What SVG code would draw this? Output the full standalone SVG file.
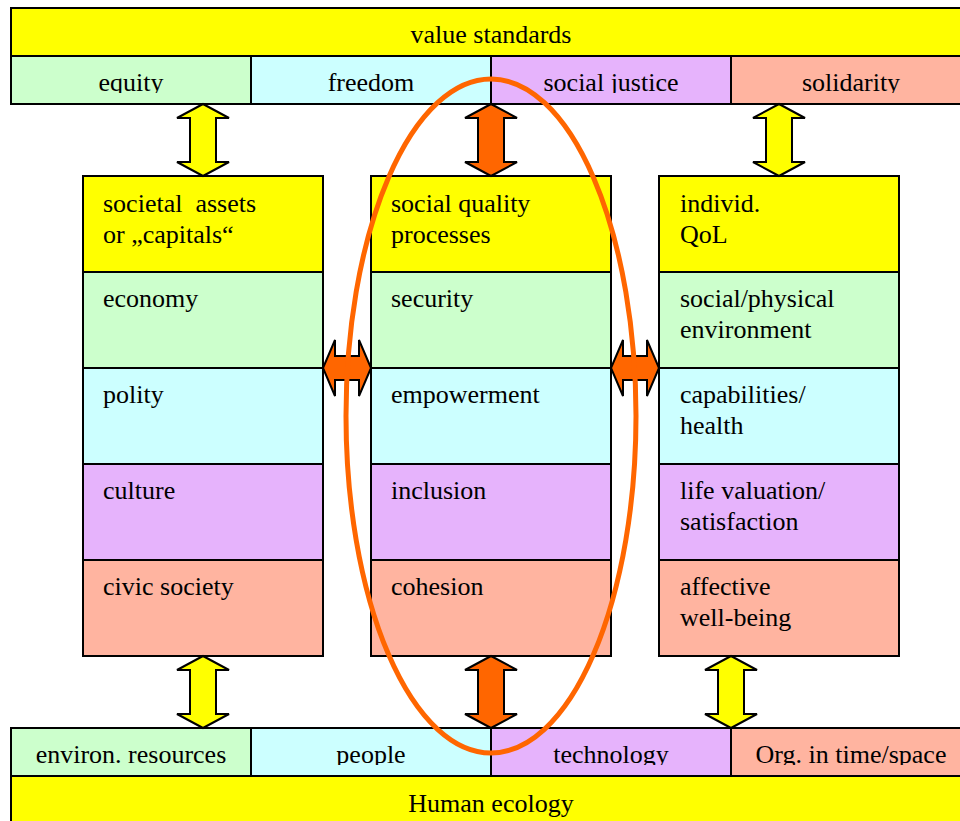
<svg xmlns="http://www.w3.org/2000/svg" width="960" height="821" viewBox="0 0 960 821">
<style>
text{font-size:26px;fill:#000}
.c{text-anchor:middle}
rect{stroke:#000;stroke-width:2}
.y{fill:#ffff00}.g{fill:#ccffcc}.b{fill:#ccffff}.p{fill:#e6b3fc}.s{fill:#ffb4a0}
.ay{fill:#ffff00;stroke:#000;stroke-width:2;stroke-linejoin:miter}
.ao{fill:#ff6600;stroke:#000;stroke-width:2;stroke-linejoin:miter}
</style>
<defs>
<path id="va" d="M0,0 L26,14 L13,14 L13,58 L26,58 L0,72 L-26,58 L-13,58 L-13,14 L-26,14 Z"/>
<path id="ha" d="M0,0 L12,-28 L12,-12 L36,-12 L36,-28 L48,0 L36,28 L36,12 L12,12 L12,28 Z"/>
<clipPath id="ct"><rect x="0" y="56" width="960" height="37"/></clipPath>
<clipPath id="cb"><rect x="0" y="728" width="960" height="37"/></clipPath>
</defs>
<g font-family="'Liberation Serif', 'Times New Roman', 'DejaVu Serif', serif">
<g id="top">
<rect class="y" x="11" y="8" width="960" height="48"/>
<text class="c" x="491" y="43">value standards</text>
<rect class="g" x="11" y="56" width="240" height="48"/>
<rect class="b" x="251" y="56" width="240" height="48"/>
<rect class="p" x="491" y="56" width="240" height="48"/>
<rect class="s" x="731" y="56" width="240" height="48"/>
<g clip-path="url(#ct)">
<text class="c" x="131" y="91">equity</text>
<text class="c" x="371" y="91">freedom</text>
<text class="c" x="611" y="91">social justice</text>
<text class="c" x="851" y="91">solidarity</text>
</g>
</g>
<g id="col-left">
<rect class="y" x="83" y="176" width="240" height="96"/>
<rect class="g" x="83" y="272" width="240" height="96"/>
<rect class="b" x="83" y="368" width="240" height="96"/>
<rect class="p" x="83" y="464" width="240" height="96"/>
<rect class="s" x="83" y="560" width="240" height="96"/>
<text x="103" y="212" xml:space="preserve">societal  assets</text>
<text x="103" y="243">or „capitals“</text>
<text x="103" y="307">economy</text>
<text x="103" y="403">polity</text>
<text x="103" y="499">culture</text>
<text x="103" y="595">civic society</text>
</g>
<g id="col-mid">
<rect class="y" x="371" y="176" width="240" height="96"/>
<rect class="g" x="371" y="272" width="240" height="96"/>
<rect class="b" x="371" y="368" width="240" height="96"/>
<rect class="p" x="371" y="464" width="240" height="96"/>
<rect class="s" x="371" y="560" width="240" height="96"/>
<text x="391" y="212">social quality</text>
<text x="391" y="243">processes</text>
<text x="391" y="307">security</text>
<text x="391" y="403">empowerment</text>
<text x="391" y="499">inclusion</text>
<text x="391" y="595">cohesion</text>
</g>
<g id="col-right">
<rect class="y" x="659" y="176" width="240" height="96"/>
<rect class="g" x="659" y="272" width="240" height="96"/>
<rect class="b" x="659" y="368" width="240" height="96"/>
<rect class="p" x="659" y="464" width="240" height="96"/>
<rect class="s" x="659" y="560" width="240" height="96"/>
<text x="680" y="212">individ.</text>
<text x="680" y="243">QoL</text>
<text x="680" y="307">social/physical</text>
<text x="680" y="338">environment</text>
<text x="680" y="403">capabilities/</text>
<text x="680" y="434">health</text>
<text x="680" y="499">life valuation/</text>
<text x="680" y="530">satisfaction</text>
<text x="680" y="595">affective</text>
<text x="680" y="626">well-being</text>
</g>
<g id="bottom">
<rect class="y" x="11" y="776" width="960" height="60"/>
<text class="c" x="491" y="812">Human ecology</text>
<rect class="g" x="11" y="728" width="240" height="48"/>
<rect class="b" x="251" y="728" width="240" height="48"/>
<rect class="p" x="491" y="728" width="240" height="48"/>
<rect class="s" x="731" y="728" width="240" height="48"/>
<g clip-path="url(#cb)">
<text class="c" x="131" y="763">environ. resources</text>
<text class="c" x="371" y="763">people</text>
<text class="c" x="611" y="763">technology</text>
<text class="c" x="851" y="763">Org. in time/space</text>
</g>
</g>
</g>
<g id="connectors">
<use href="#va" class="ay" x="203" y="104"/>
<use href="#va" class="ao" x="491" y="104"/>
<use href="#va" class="ay" x="779" y="104"/>
<use href="#va" class="ay" x="203" y="656"/>
<use href="#va" class="ao" x="491" y="656"/>
<use href="#va" class="ay" x="731" y="656"/>
<use href="#ha" class="ao" x="323" y="368"/>
<use href="#ha" class="ao" x="611" y="368"/>
</g>
<ellipse cx="491" cy="416" rx="145" ry="337" fill="none" stroke="#ff6600" stroke-width="5"/>
</svg>
